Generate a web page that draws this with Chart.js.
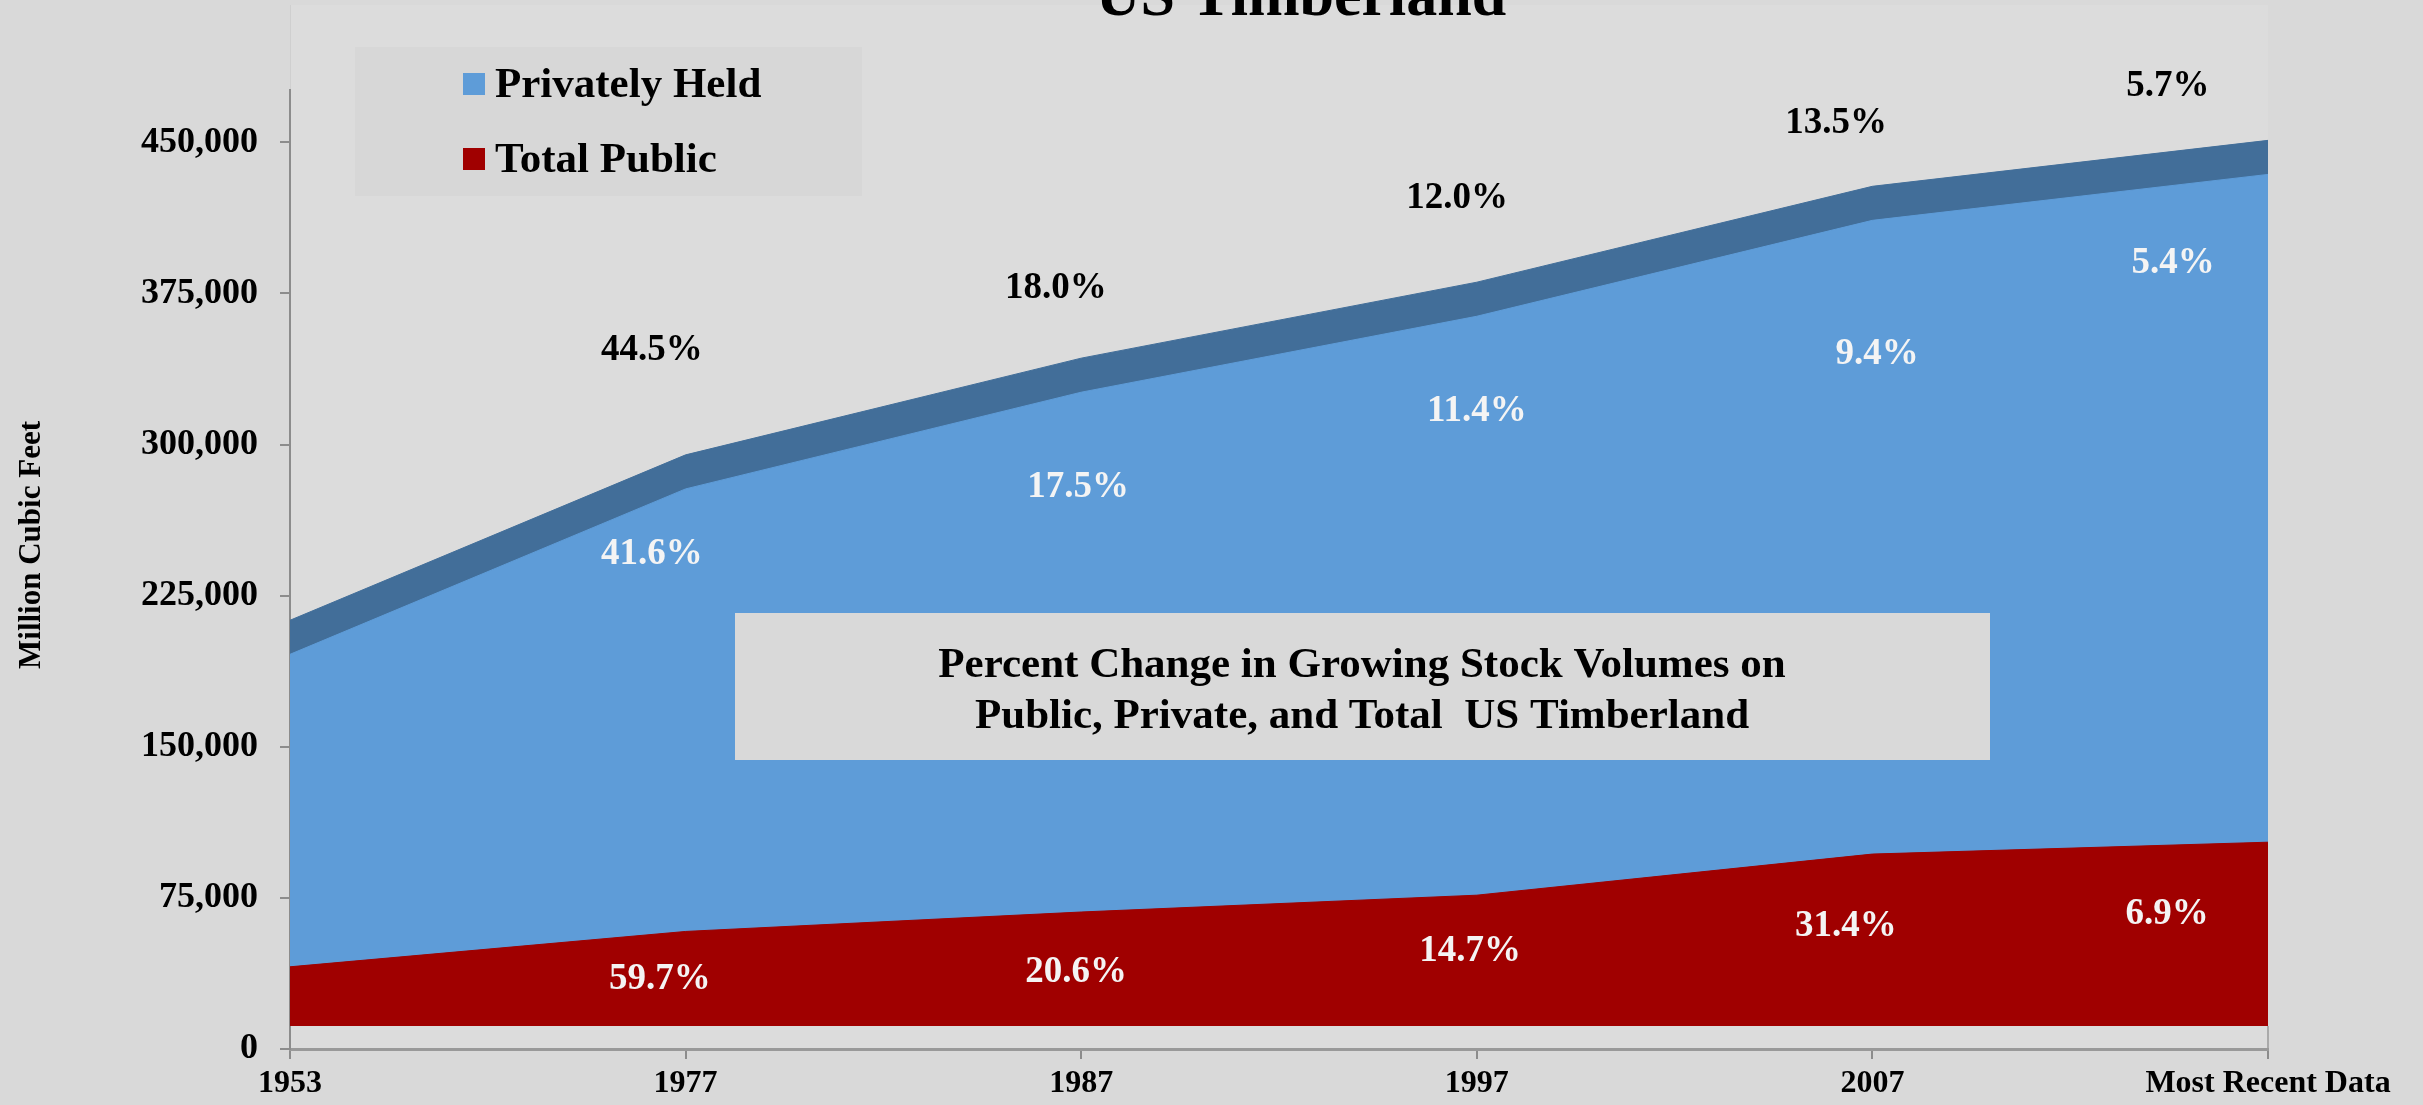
<!DOCTYPE html>
<html>
<head>
<meta charset="utf-8">
<script src="https://cdn.jsdelivr.net/npm/chart.js@4.4.1/dist/chart.umd.min.js"></script>
<style>
html,body{margin:0;padding:0;background:#d9d9d9;overflow:hidden}
#wrap{width:2423px;height:1105px;position:relative}
</style>
</head>
<body>
<div id="wrap"><canvas id="c" width="2423" height="1105"></canvas></div>
<script>
// ---------- data ----------
const categories = ['1953', '1977', '1987', '1997', '2007', 'Most Recent Data'];
const publicVolume  = [29400, 46950, 56600, 64950, 85350, 91250];     // Total Public (million cubic feet)
const privateVolume = [155100, 219650, 258000, 287350, 314550, 331450]; // Privately Held
const yTickValues = [0, 75000, 150000, 225000, 300000, 375000, 450000];
const yMax = 476000;

// percent change labels (1977 .. Most Recent Data)
const totalChange   = ['44.5%', '18.0%', '12.0%', '13.5%', '5.7%'];
const privateChange = ['41.6%', '17.5%', '11.4%', '9.4%', '5.4%'];
const publicChange  = ['59.7%', '20.6%', '14.7%', '31.4%', '6.9%'];

// annotation anchors in data space: [category position, value on the axis]
const totalLabelAt   = [[0.915, 346600], [1.936, 377600], [2.95, 422300], [3.908, 459500], [4.747, 477800]];
const privateLabelAt = [[0.915, 245600], [1.992, 278600], [3.0, 316300], [4.012, 344900], [4.76, 389800]];
const publicLabelAt  = [[0.935, 34650], [1.987, 38100], [2.983, 48500], [3.933, 60700], [4.745, 66900]];

const legendNames = ['Privately Held', 'Total Public'];
const boxLines = ['Percent Change in Growing Stock Volumes on', 'Public, Private, and Total  US Timberland'];
const chartTitle = 'US Timberland';
const yTitle = 'Million Cubic Feet';

// ---------- style ----------
const FONT = "'Liberation Serif', 'Times New Roman', serif";
const RED = '#a00000', BLUE = '#5e9cd8', DARK = '#426e99';
const frontDepth = 11400;  // 3D depth of the front face (axis units)
const topDepth = 16900;    // visible top face thickness (axis units)

Chart.defaults.font.family = FONT;
Chart.defaults.font.weight = 'bold';

const decor = {
  id: 'decor',
  beforeDraw(chart) {
    const ctx = chart.ctx, a = chart.chartArea;
    ctx.save();
    ctx.fillStyle = '#d9d9d9';
    ctx.fillRect(0, 0, chart.width, chart.height);
    ctx.fillStyle = '#dcdcdc';
    ctx.fillRect(a.left, 5, a.right - a.left, a.bottom - 5);
    ctx.strokeStyle = '#cfcfcf';
    ctx.lineWidth = 1;
    ctx.beginPath();
    ctx.moveTo(a.left + 0.5, 5); ctx.lineTo(a.left + 0.5, a.top);
    ctx.stroke();
    ctx.restore();
  },
  afterDatasetsDraw(chart) {
    const ctx = chart.ctx, a = chart.chartArea;
    const xs = chart.scales.x, ys = chart.scales.y, yd = chart.scales.yData;
    ctx.save();
    // floor edge at right
    ctx.strokeStyle = '#9a9a9a';
    ctx.lineWidth = 1.5;
    ctx.beginPath();
    ctx.moveTo(a.right, yd.getPixelForValue(0)); ctx.lineTo(a.right, a.bottom);
    ctx.stroke();

    // legend box
    ctx.fillStyle = '#d7d7d7';
    ctx.fillRect(355, 47, 507, 149);
    const legendColors = [BLUE, RED];
    ctx.font = 'bold 43px ' + FONT;
    ctx.textAlign = 'left';
    ctx.textBaseline = 'alphabetic';
    legendNames.forEach((n, i) => {
      const base = 97 + i * 75;
      ctx.fillStyle = legendColors[i];
      ctx.fillRect(463, base - 24, 22, 22);
      ctx.fillStyle = '#000';
      ctx.fillText(n, 495, base);
    });

    // centre text box
    ctx.fillStyle = '#d9d9d9';
    ctx.fillRect(735, 613, 1255, 147);
    ctx.fillStyle = '#000';
    ctx.textAlign = 'center';
    ctx.font = 'bold 43px ' + FONT;
    ctx.fillText(boxLines[0], 1362, 677);
    ctx.fillText(boxLines[1], 1362, 728);

    // percent labels
    ctx.font = 'bold 37px ' + FONT;
    ctx.textBaseline = 'middle';
    const put = (texts, at, color) => {
      ctx.fillStyle = color;
      texts.forEach((t, i) => ctx.fillText(t, xs.getPixelForValue(at[i][0]), ys.getPixelForValue(at[i][1])));
    };
    put(totalChange, totalLabelAt, '#000000');
    put(privateChange, privateLabelAt, '#f4f4f4');
    put(publicChange, publicLabelAt, '#f4f4f4');
    ctx.restore();
  },
  afterDraw(chart) {
    const ctx = chart.ctx;
    ctx.save();
    ctx.fillStyle = '#000';
    ctx.textAlign = 'center';
    ctx.textBaseline = 'alphabetic';
    ctx.font = 'bold 62px ' + FONT;
    ctx.fillText(chartTitle, 1301, 15);
    ctx.translate(40, 545);
    ctx.rotate(-Math.PI / 2);
    ctx.font = 'bold 31px ' + FONT;
    ctx.fillText(yTitle, 0, 0);
    ctx.restore();
  }
};

const common = { pointRadius: 0, tension: 0, borderWidth: 1, clip: false };

new Chart(document.getElementById('c'), {
  type: 'line',
  data: {
    labels: categories,
    datasets: [
      Object.assign({ label: legendNames[1], data: publicVolume, yAxisID: 'yData', backgroundColor: RED, borderColor: RED, fill: 'origin' }, common),
      Object.assign({ label: legendNames[0], data: privateVolume, yAxisID: 'yData', backgroundColor: BLUE, borderColor: BLUE, fill: '-1' }, common),
      Object.assign({ label: 'top face public', data: publicVolume, yAxisID: 'yTop', backgroundColor: DARK, borderColor: DARK, fill: 'origin' }, common),
      Object.assign({ label: 'top face private', data: privateVolume, yAxisID: 'yTop', backgroundColor: DARK, borderColor: DARK, fill: '-1' }, common)
    ]
  },
  options: {
    responsive: false,
    animation: false,
    events: [],
    layout: { padding: { top: 90, right: 155, left: 0, bottom: 0 } },
    plugins: { legend: { display: false }, tooltip: { enabled: false }, title: { display: false } },
    scales: {
      x: {
        type: 'category',
        offset: false,
        grid: { drawOnChartArea: false, tickLength: 10, color: '#8c8c8c', lineWidth: 2 },
        border: { color: '#999999', width: 3 },
        ticks: { font: { size: 32, weight: 'bold' }, color: '#000', padding: 6, maxRotation: 0, autoSkip: false },
        afterFit(s) { s.height = 56; }
      },
      y: {
        type: 'linear',
        min: 0,
        max: yMax,
        ticks: { font: { size: 36, weight: 'bold' }, color: '#000', padding: 22, autoSkip: false,
                 callback: v => Number(v).toLocaleString('en-US') },
        grid: { drawOnChartArea: false, tickLength: 10, color: '#8c8c8c', lineWidth: 2 },
        border: { color: '#8c8c8c', width: 2 },
        afterBuildTicks(s) { s.ticks = yTickValues.map(v => ({ value: v })); },
        afterFit(s) { s.width = 290; }
      },
      yData: { display: false, stacked: true, min: -frontDepth, max: yMax - frontDepth },
      yTop: { display: false, stacked: true, min: -(frontDepth + topDepth), max: yMax - frontDepth - topDepth }
    }
  },
  plugins: [decor]
});
</script>
</body>
</html>
